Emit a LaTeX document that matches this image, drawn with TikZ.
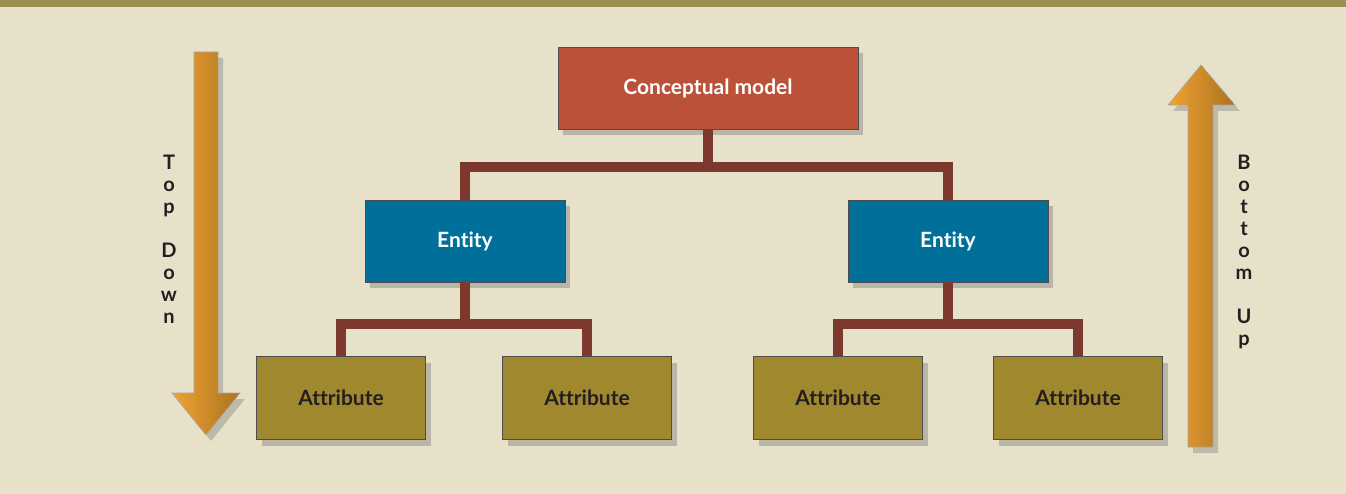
\documentclass[tikz,border=0pt]{standalone}
\usepackage{fontspec}
\setmainfont{Lato}[Ligatures=NoCommon]
\usetikzlibrary{shadows}

\definecolor{bgbeige}{HTML}{E8E1C9}
\definecolor{barolive}{HTML}{9C8F52}
\definecolor{modelred}{HTML}{BC513A}
\definecolor{entityblue}{HTML}{00709A}
\definecolor{attrolive}{HTML}{A0882F}
\definecolor{linkbrown}{HTML}{7E392E}
\definecolor{arroworange}{HTML}{F2A330}
\definecolor{labelink}{HTML}{231F20}

\tikzset{
  box/.style={draw=gray!60!black, line width=0.8pt, minimum height=82pt,
    font=\fontsize{21}{24}\selectfont\bfseries,
    drop shadow={shadow xshift=5pt, shadow yshift=-6pt, fill=black!50, opacity=0.45}},
  modelbox/.style={box, fill=modelred, text=white, minimum width=300pt},
  entitybox/.style={box, fill=entityblue, text=white, minimum width=200pt},
  attrbox/.style={box, fill=attrolive, text=labelink, minimum width=169pt, minimum height=83pt},
  link/.style={linkbrown, line width=10pt},
  flowarrow/.style={left color=arroworange, middle color=arroworange!95!white,
    right color=arroworange!70!black, draw=gray!70, line width=0.6pt,
    drop shadow={shadow xshift=5pt, shadow yshift=-6pt, fill=black!50, opacity=0.4}},
  flowlabel/.style={text=labelink, align=center, font=\fontsize{20}{22}\selectfont\bfseries}
}

\begin{document}
\begin{tikzpicture}[x=1pt, y=-1pt]
    % background and top band
    \fill[bgbeige] (0,0) rectangle (1346,494);
    \fill[barolive] (0,0) rectangle (1346,7);
    \useasboundingbox (0,0) rectangle (1346,494);

    % boxes
    \node[modelbox] (model) at (708,88) {Conceptual model};
    \node[entitybox] (entityL) at (465,241) {Entity};
    \node[entitybox] (entityR) at (948,241) {Entity};
    \node[attrbox] (attrA) at (341,398) {Attribute};
    \node[attrbox] (attrB) at (587,398) {Attribute};
    \node[attrbox] (attrC) at (838,398) {Attribute};
    \node[attrbox] (attrD) at (1078,398) {Attribute};

    % junctions of the tree
    \coordinate (jmodel) at (708,167);
    \coordinate (jleft) at (465,324);
    \coordinate (jright) at (948,324);

    % connectors
    \draw[link] (model.south) -- (jmodel);
    \draw[link] (entityL.north) |- (jmodel) -| (entityR.north);
    \draw[link] (entityL.south) -- (jleft);
    \draw[link] (attrA.north) |- (jleft) -| (attrB.north);
    \draw[link] (entityR.south) -- (jright);
    \draw[link] (attrC.north) |- (jright) -| (attrD.north);

    % top down arrow
    \draw[flowarrow] (194,52) -- (218,52) -- (218,393) -- (240,393) -- (206,435)
        -- (172,393) -- (194,393) -- cycle;
    \node[flowlabel] (topdown) at (169,239) {T\\o\\p\\ \\D\\o\\w\\n};

    % bottom up arrow
    \draw[flowarrow] (1188,447) -- (1213,447) -- (1213,105) -- (1235,105) -- (1201,65)
        -- (1168,105) -- (1188,105) -- cycle;
    \node[flowlabel] (bottomup) at (1244,252) {B\\o\\t\\t\\o\\m\\ \\U\\p};
\end{tikzpicture}
\end{document}
